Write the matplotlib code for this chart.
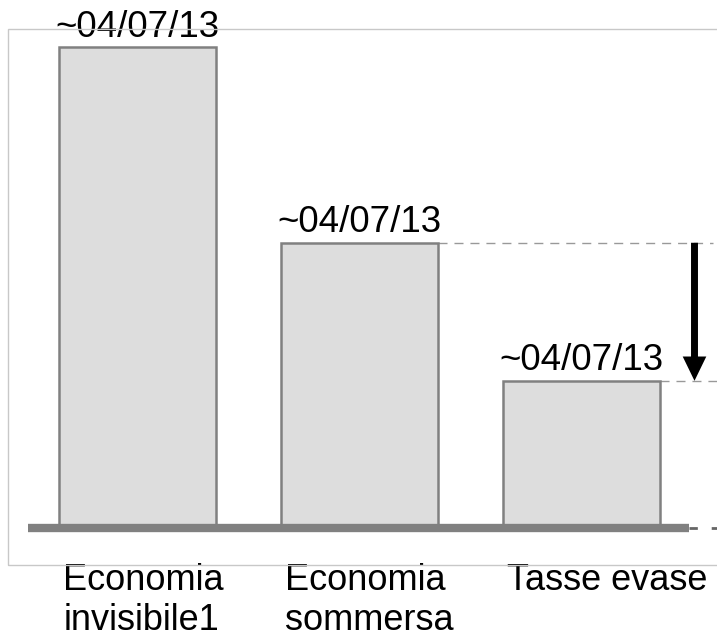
import matplotlib
matplotlib.use("Agg")
import matplotlib.pyplot as plt
from matplotlib.patches import Rectangle

plt.rcParams['font.family'] = ['Liberation Sans', 'DejaVu Sans']

categories = ["Economia\ninvisibile1", "Economia\nsommersa", "Tasse evase"]
values = [100.0, 59.3, 30.6]
value_labels = ["~04/07/13", "~04/07/13", "~04/07/13"]

W, H = 717, 639
fig = plt.figure(figsize=(W / 100, H / 100), dpi=100)

# outer light frame
fig.patches.append(Rectangle((8 / W, 74 / H), 1.2, (565 - 29) / H, transform=fig.transFigure,
                             fill=False, edgecolor='#c8c8c8', linewidth=1.0, zorder=0))

ax = fig.add_axes([8 / W, 111 / H, 1 - 8 / W, (528 - 29) / H])
ax.set_xlim((8 - 137.5) / 222, (717 - 137.5) / 222)
ax.set_ylim(0, 499 / 481 * 100)
ax.axis('off')

x = list(range(len(categories)))
bw = 0.707
bars = ax.bar(x, values, width=bw, color='#dddddd', edgecolor='#808080', linewidth=1.8, zorder=2)

# baseline
ax.plot([x[0] - bw / 2 - 0.14, x[-1] + bw / 2 + 0.13], [0, 0], color='#808080',
        linewidth=6, solid_capstyle='butt', zorder=3, clip_on=False)

# value labels
for xi, v, lab in zip(x, values, value_labels):
    ax.annotate(lab, (xi, v), xytext=(0, 7.5), textcoords='offset points',
                ha='center', va='baseline', fontsize=26.5, color='black')

# category labels (one line at a time)
for xi, cat in zip(x, categories):
    for i, line in enumerate(cat.split('\n')):
        ax.annotate(line, (xi - bw / 2, 0), xytext=(3, -44.6 - 28.8 * i),
                    textcoords='offset points', ha='left', va='baseline',
                    fontsize=26, color='black', annotation_clip=False)

# dashed reference lines
xr_end = (717 - 137.5) / 222
ax.plot([x[1] + bw / 2, (713 - 137.5) / 222], [values[1], values[1]], color='#999999',
        linewidth=1.0, linestyle=(0, (6.5, 5)), zorder=1)
ax.plot([x[2] + bw / 2, xr_end], [values[2], values[2]], color='#999999',
        linewidth=1.0, linestyle=(0, (6.5, 5)), zorder=1)
ax.plot([x[-1] + bw / 2 + 0.13, xr_end], [0, 0], color='#666666',
        linewidth=2.0, linestyle=(0, (3, 5)), zorder=1, clip_on=False)

# arrow
xa = (694.5 - 137.5) / 222
ax.annotate('', xy=(xa, values[2]), xytext=(xa, values[1]),
            arrowprops=dict(arrowstyle='simple,head_length=1.75,head_width=1.7,tail_width=0.5',
                            facecolor='black', edgecolor='none', linewidth=0,
                            shrinkA=0, shrinkB=0, mutation_scale=10),
            zorder=4)

fig.savefig('out.png', dpi=100)
